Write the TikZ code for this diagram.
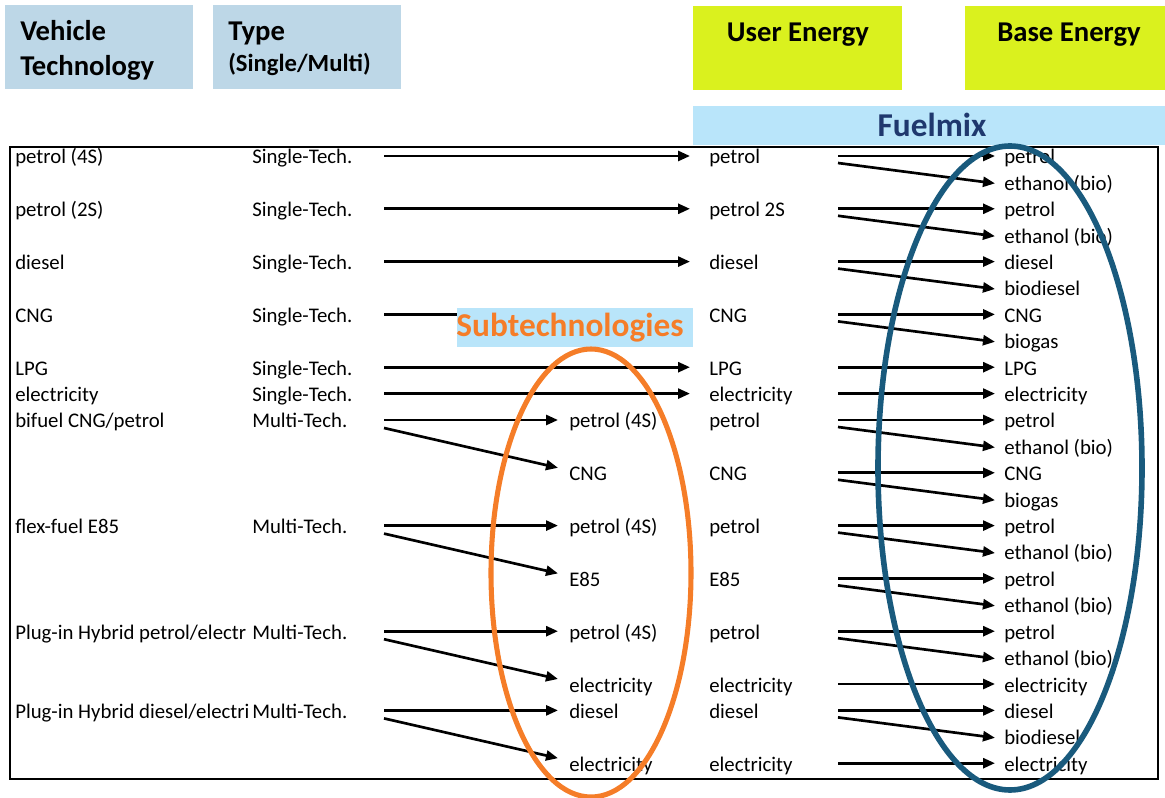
\documentclass[tikz,border=0pt]{standalone}
\usepackage{fontspec}
\setmainfont{Carlito}
\usetikzlibrary{arrows.meta,calc}
\definecolor{hdrblue}{RGB}{189,215,231}
\definecolor{hdrgreen}{RGB}{218,241,30}
\definecolor{fmblue}{RGB}{185,229,250}
\definecolor{fmtext}{RGB}{31,56,110}
\definecolor{suborange}{RGB}{245,125,40}
\definecolor{ellblue}{RGB}{25,90,125}
\begin{document}
\begin{tikzpicture}[x=0.75pt,y=-0.75pt,
  txt/.style={anchor=base west,inner sep=0pt,font=\fontsize{15.6}{18}\selectfont},
  hdr/.style={anchor=base west,inner sep=0pt,font=\fontsize{21.5}{25}\selectfont\bfseries},
  hdrc/.style={anchor=base,inner sep=0pt,font=\fontsize{21.5}{25}\selectfont\bfseries},
  arr/.style={-{Triangle[length=9pt,width=7.5pt]},line width=2pt},
  ell/.style={line width=3.8pt}]
\useasboundingbox (0,0) rectangle (1165,798);
% header boxes
\fill[hdrblue] (5,5) rectangle (193,89);
\fill[hdrblue] (213,5) rectangle (401,89);
\fill[hdrgreen] (693,6) rectangle (902,90);
\fill[hdrgreen] (965,6) rectangle (1165,90);
\fill[fmblue] (693,106) rectangle (1165,145);
\node[hdr] (h1a) at (20,41) {Vehicle};
\node[hdr] (h1b) at (20,76) {Technology};
\node[hdr] (h2a) at (228,41) {Type};
\node[hdr,font=\fontsize{18.5}{22}\selectfont\bfseries] (h2b) at (228,72) {(Single/Multi)};
\node[hdrc] (h3) at (798,42) {User Energy};
\node[hdrc] (h4) at (1069,42) {Base Energy};
\node[hdrc,font=\fontsize{25}{29}\selectfont\bfseries,text=fmtext] (h5) at (932,137) {Fuelmix};
% frame
\draw[line width=1pt] (10,147) rectangle (1158,779);
% vehicle technology column
\node[txt] (L0) at (15,{156+26.4*0+8}) {petrol (4S)};
\node[txt] (L2) at (15,{156+26.4*2+8}) {petrol (2S)};
\node[txt] (L4) at (15,{156+26.4*4+8}) {diesel};
\node[txt] (L6) at (15,{156+26.4*6+8}) {CNG};
\node[txt] (L8) at (15,{156+26.4*8+8}) {LPG};
\node[txt] (L9) at (15,{156+26.4*9+8}) {electricity};
\node[txt] (L10) at (15,{156+26.4*10+8}) {bifuel CNG/petrol};
\node[txt] (L14) at (15,{156+26.4*14+8}) {flex-fuel E85};
\node[txt] (L18) at (15,{156+26.4*18+8}) {Plug-in Hybrid petrol/electr};
\node[txt] (L21) at (15,{156+26.4*21+8}) {Plug-in Hybrid diesel/electri};
% type column
\foreach \k in {0,2,4,6,8,9}
  \node[txt] (T\k) at (252,{156+26.4*\k+8}) {Single-Tech.};
\foreach \k in {10,14,18,21}
  \node[txt] (T\k) at (252,{156+26.4*\k+8}) {Multi-Tech.};
% subtechnologies column
\foreach \k/\t in {10/petrol (4S),12/CNG,14/petrol (4S),16/E85,18/petrol (4S),20/electricity,21/diesel,23/electricity}
  \node[txt] (S\k) at (569,{156+26.4*\k+8}) {\t};
% user energy column
\foreach \k/\t in {0/petrol,2/petrol 2S,4/diesel,6/CNG,8/LPG,9/electricity,10/petrol,12/CNG,14/petrol,16/E85,18/petrol,20/electricity,21/diesel,23/electricity}
  \node[txt] (U\k) at (709,{156+26.4*\k+8}) {\t};
% base energy column
\foreach \k/\t in {0/petrol,1/ethanol (bio),2/petrol,3/ethanol (bio),4/diesel,5/biodiesel,6/CNG,7/biogas,8/LPG,9/electricity,10/petrol,11/ethanol (bio),12/CNG,13/biogas,14/petrol,15/ethanol (bio),16/petrol,17/ethanol (bio),18/petrol,19/ethanol (bio),20/electricity,21/diesel,22/biodiesel,23/electricity}
  \node[txt] (B\k) at (1004,{156+26.4*\k+8}) {\t};
% arrow start coordinates
\foreach \k in {0,2,4,6,8,9,10,14,18,21}
  \coordinate (a\k) at (384,{156+26.4*\k});
\foreach \k in {0,2,4,6,8,9,10,12,14,16,18,20,21,23}
  \coordinate (f\k) at (838,{156+26.4*\k});
% single-tech arrows
\foreach \k in {0,2,4,6,8,9}
  \draw[arr] (a\k) -- ($(U\k.base west)+(-19,-8)$);
% multi-tech arrows
\foreach \k [evaluate=\k as \n using int(\k+2)] in {10,14,18}{
  \draw[arr] (a\k) -- ($(S\k.base west)+(-11,-8)$);
  \draw[arr] ($(a\k)+(0,8)$) -- ($(S\n.base west)+(-11,-13)$);
}
\draw[arr] (a21) -- ($(S21.base west)+(-11,-8)$);
\draw[arr] ($(a21)+(0,8)$) -- ($(S23.base west)+(-11,-13)$);
% fuelmix arrows
\foreach \k [evaluate=\k as \n using int(\k+1)] in {0,2,4,6,10,12,14,16,18,21}{
  \draw[arr] (f\k) -- ($(B\k.base west)+(-9,-8)$);
  \draw[arr] ($(f\k)+(0,7)$) -- ($(B\n.base west)+(-9,-7)$);
}
\foreach \k in {8,9,20,23}
  \draw[arr] (f\k) -- ($(B\k.base west)+(-9,-8)$);
% subtechnologies label
\fill[fmblue] (457,308) rectangle (693,347);
\node[hdrc,font=\fontsize{25}{29}\selectfont\bfseries,text=suborange] (sublbl) at (570,337) {Subtechnologies};
% ellipses
\draw[ell,suborange] (591,573) ellipse [x radius=100, y radius=224];
\draw[ell,ellblue,line width=4.2pt] (1010,468) ellipse [x radius=132, y radius=322];
\end{tikzpicture}
\end{document}
